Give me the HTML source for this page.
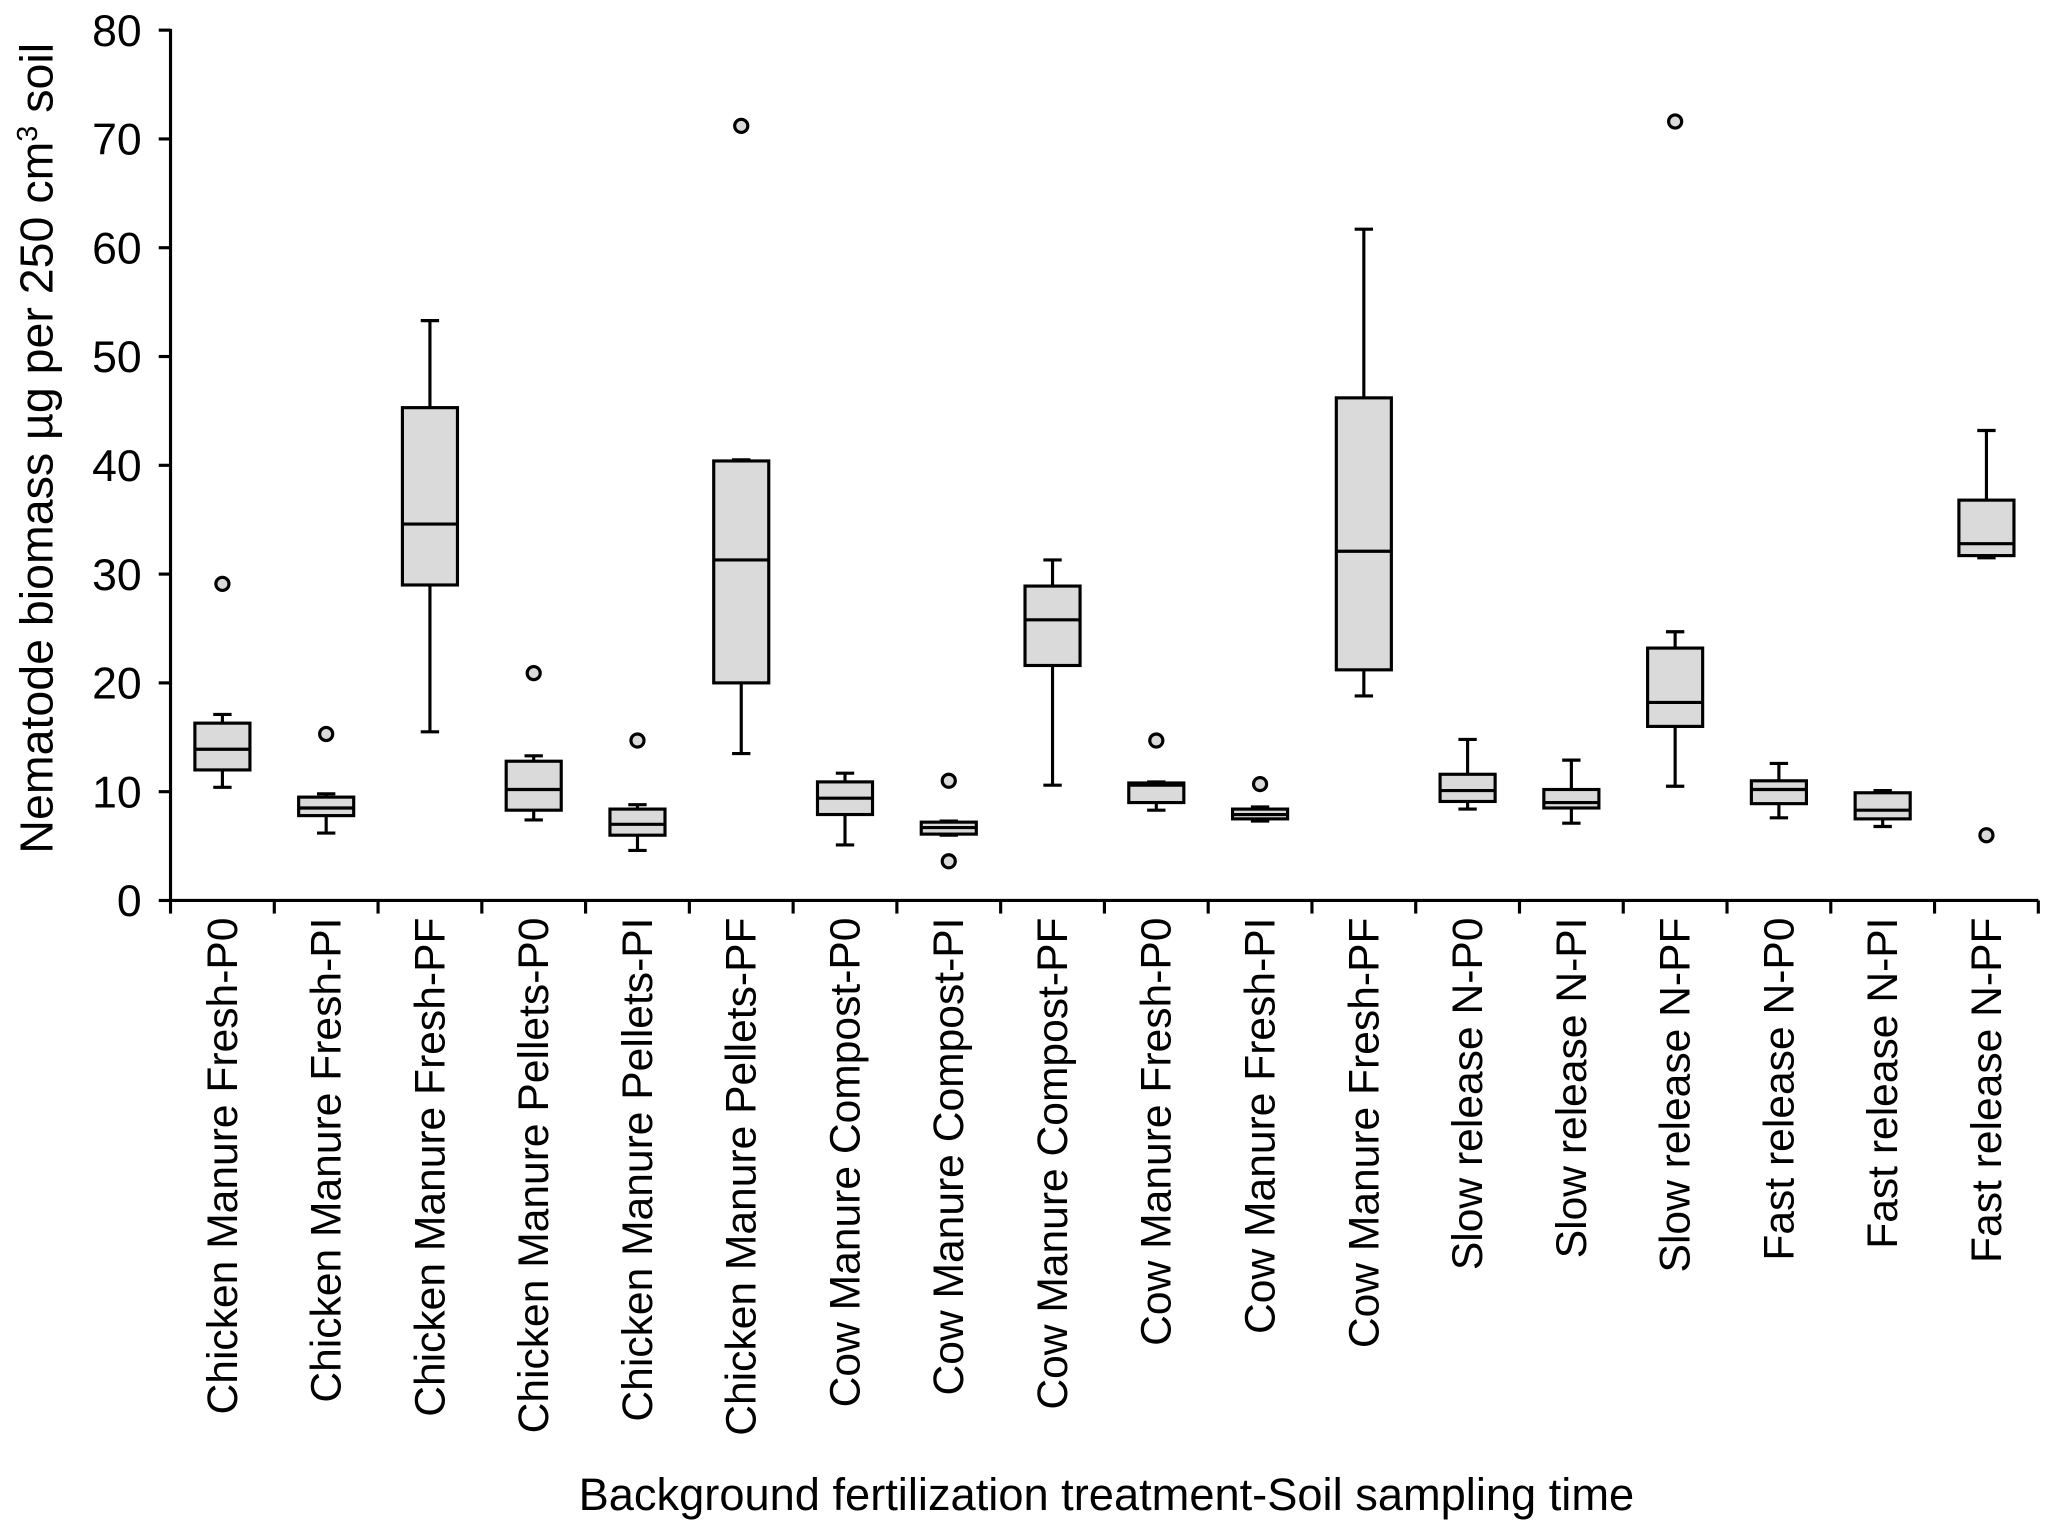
<!DOCTYPE html>
<html><head><meta charset="utf-8"><style>body{margin:0;background:#fff}svg{display:block}text{font-family:"Liberation Sans",Arial,sans-serif;fill:#000}</style></head>
<body>
<svg width="2045" height="1527" viewBox="0 0 1560 1165" xmlns="http://www.w3.org/2000/svg">
<g id="g"></g>
</svg>
<script>
const categories=["Chicken Manure Fresh-P0","Chicken Manure Fresh-PI","Chicken Manure Fresh-PF","Chicken Manure Pellets-P0","Chicken Manure Pellets-PI","Chicken Manure Pellets-PF","Cow Manure Compost-P0","Cow Manure Compost-PI","Cow Manure Compost-PF","Cow Manure Fresh-P0","Cow Manure Fresh-PI","Cow Manure Fresh-PF","Slow release N-P0","Slow release N-PI","Slow release N-PF","Fast release N-P0","Fast release N-PI","Fast release N-PF"];
const whiskerLow=[10.4,6.2,15.5,7.4,4.6,13.5,5.1,6.0,10.6,8.3,7.3,18.8,8.4,7.1,10.5,7.6,6.8,31.5];
const q1=[12.0,7.8,29.0,8.3,6.0,20.0,7.9,6.1,21.6,9.0,7.5,21.2,9.1,8.5,16.0,8.9,7.5,31.7];
const median=[13.9,8.5,34.6,10.2,7.0,31.3,9.4,6.7,25.8,10.6,7.9,32.1,10.1,9.0,18.2,10.2,8.3,32.8];
const q3=[16.3,9.5,45.3,12.8,8.4,40.4,10.9,7.2,28.9,10.8,8.4,46.2,11.6,10.2,23.2,11.0,9.9,36.8];
const whiskerHigh=[17.1,9.8,53.3,13.3,8.8,40.5,11.7,7.3,31.3,10.9,8.6,61.7,14.8,12.9,24.7,12.6,10.1,43.2];
const outliers=[[29.1],[15.3],[],[20.9],[14.7],[71.2],[],[11.0,3.6],[],[14.7],[10.7],[],[],[],[71.6],[],[],[6.0]];
const yTicks=[0,10,20,30,40,50,60,70,80];
const NS="http://www.w3.org/2000/svg";const g=document.getElementById('g');
const X0=130,X1=1555,Y0=687,Y1=23;
const step=(X1-X0)/categories.length;
const y=v=>Y0-(v/80)*(Y0-Y1);
const xc=i=>X0+step*(i+0.5);
function el(t,a,p){const e=document.createElementNS(NS,t);for(const k in a)e.setAttribute(k,a[k]);(p||g).appendChild(e);return e;}
const st={stroke:"#000","stroke-width":2.4,fill:"none"};
let ax=el('line',Object.assign({x1:X0,y1:Y1-1,x2:X0,y2:Y0},st));


let axx=el('line',Object.assign({x1:X0,y1:Y0,x2:X1,y2:Y0},st));


yTicks.forEach(v=>{
  el('line',Object.assign({x1:X0-9,y1:y(v),x2:X0,y2:y(v)},st));
  const t=el('text',{x:X0-22,y:y(v)+12,'text-anchor':'end','font-size':34});t.textContent=v;
  
  
});
for(let i=0;i<=categories.length;i++)el('line',Object.assign({x1:X0+step*i,y1:Y0,x2:X0+step*i,y2:Y0+10},st));
const bw=42,cw=14;
categories.forEach((c,i)=>{
  const x=xc(i);
  const grp=el('g',{});
  
  
  el('line',Object.assign({x1:x,y1:y(whiskerLow[i]),x2:x,y2:y(q1[i])},st),grp);
  el('line',Object.assign({x1:x,y1:y(q3[i]),x2:x,y2:y(whiskerHigh[i])},st),grp);
  el('line',Object.assign({x1:x-cw/2,y1:y(whiskerLow[i]),x2:x+cw/2,y2:y(whiskerLow[i])},st),grp);
  el('line',Object.assign({x1:x-cw/2,y1:y(whiskerHigh[i]),x2:x+cw/2,y2:y(whiskerHigh[i])},st),grp);
  el('rect',{x:x-bw/2,y:y(q3[i]),width:bw,height:y(q1[i])-y(q3[i]),fill:"#dadada",stroke:"#000","stroke-width":2.4},grp);
  el('line',Object.assign({x1:x-bw/2,y1:y(median[i]),x2:x+bw/2,y2:y(median[i])},st),grp);
  outliers[i].forEach(o=>{const ci=el('circle',{cx:x,cy:y(o),r:5,fill:"#dadada",stroke:"#000","stroke-width":2.4},grp);
    
    });
  const t=el('text',{transform:`translate(${x+11},${Y0+13}) rotate(-90)`,'text-anchor':'end','font-size':32.5});t.textContent=c;
  
  
});
const yt=el('text',{transform:'translate(40,342) rotate(-90)','text-anchor':'middle','font-size':35.5});
yt.innerHTML='Nematode biomass µg per 250 cm<tspan dy="-12" font-size="22">3</tspan><tspan dy="12"> soil</tspan>';


const xt=el('text',{x:844,y:1152,'text-anchor':'middle','font-size':34.5});xt.textContent='Background fertilization treatment-Soil sampling time';


</script>
</body></html>
